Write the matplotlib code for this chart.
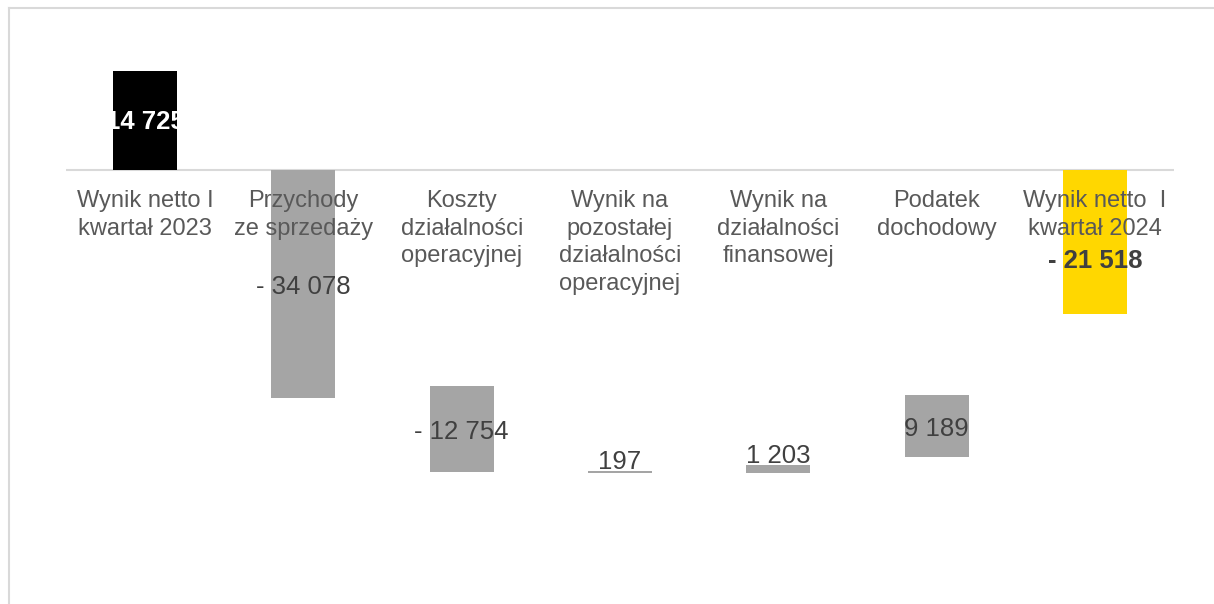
import matplotlib
matplotlib.use("Agg")
import matplotlib.pyplot as plt
from matplotlib.lines import Line2D

plt.rcParams['font.family'] = ['Liberation Sans', 'DejaVu Sans']

labels = ["Wynik netto I\nkwartał 2023", "Przychody\nze sprzedaży",
          "Koszty\ndziałalności\noperacyjnej",
          "Wynik na\npozostałej\ndziałalności\noperacyjnej",
          "Wynik na\ndziałalności\nfinansowej", "Podatek\ndochodowy",
          "Wynik netto  I\nkwartał 2024"]
# signed change of each step and the level the bar starts from (as drawn)
values = [14725, -34078, -12754, 197, 1203, 9189, -21518]
starts = [0, 0, -32250, -45150, -45250, -42800, 0]
value_text = ["14 725", "- 34 078", "- 12 754", "197", "1 203", "9 189", "- 21 518"]

colors = ["#000000", "#a5a5a5", "#a5a5a5", "#a5a5a5", "#a5a5a5", "#a5a5a5", "#ffd700"]
txt_colors = ["white", "#404040", "#404040", "#404040", "#404040", "#404040", "#404040"]
weights = ["bold", "normal", "normal", "normal", "normal", "normal", "bold"]
# label placement: 'mid' = bar centre, 'top' = above the bar; extra pixel shift
place = ["mid", "mid", "mid", "top", "top", "mid", "mid"]
shift = [-1, -3, -3, 9, 9, -3, -19]

W, H = 1214, 604
fig = plt.figure(figsize=(W / 100, H / 100), dpi=100)
ax = fig.add_axes([66 / W, 0, (1174 - 66) / W, 1])
ax.set_xlim(-0.5, len(values) - 0.5)
ax.set_ylim(-64753, 25364)
ax.axis("off")

x = range(len(values))
ax.axhline(0, color="#d9d9d9", lw=1.5, zorder=1)
ax.bar(x, values, width=0.404, bottom=starts, color=colors, zorder=2)

for i in x:
    top = max(starts[i], starts[i] + values[i])
    mid = starts[i] + values[i] / 2
    yy = mid if place[i] == "mid" else top
    ax.annotate(value_text[i], xy=(i, yy), xytext=(0, shift[i]), textcoords="offset pixels",
                ha="center", va="center", fontsize=18.5, color=txt_colors[i],
                fontweight=weights[i], zorder=4)
    ax.annotate(labels[i], xy=(i, 0), xytext=(0, -20), textcoords="offset pixels",
                ha="center", va="top", fontsize=17, color="#595959",
                linespacing=1.33, multialignment="center", zorder=3)

# light frame lines of the chart area
fig.add_artist(Line2D([8.5 / W, 8.5 / W], [0, 1 - 7.5 / H], color="#d9d9d9", lw=1.5))
fig.add_artist(Line2D([8.5 / W, 1], [1 - 7.5 / H, 1 - 7.5 / H], color="#d9d9d9", lw=1.5))

fig.savefig("out.png", dpi=100)
